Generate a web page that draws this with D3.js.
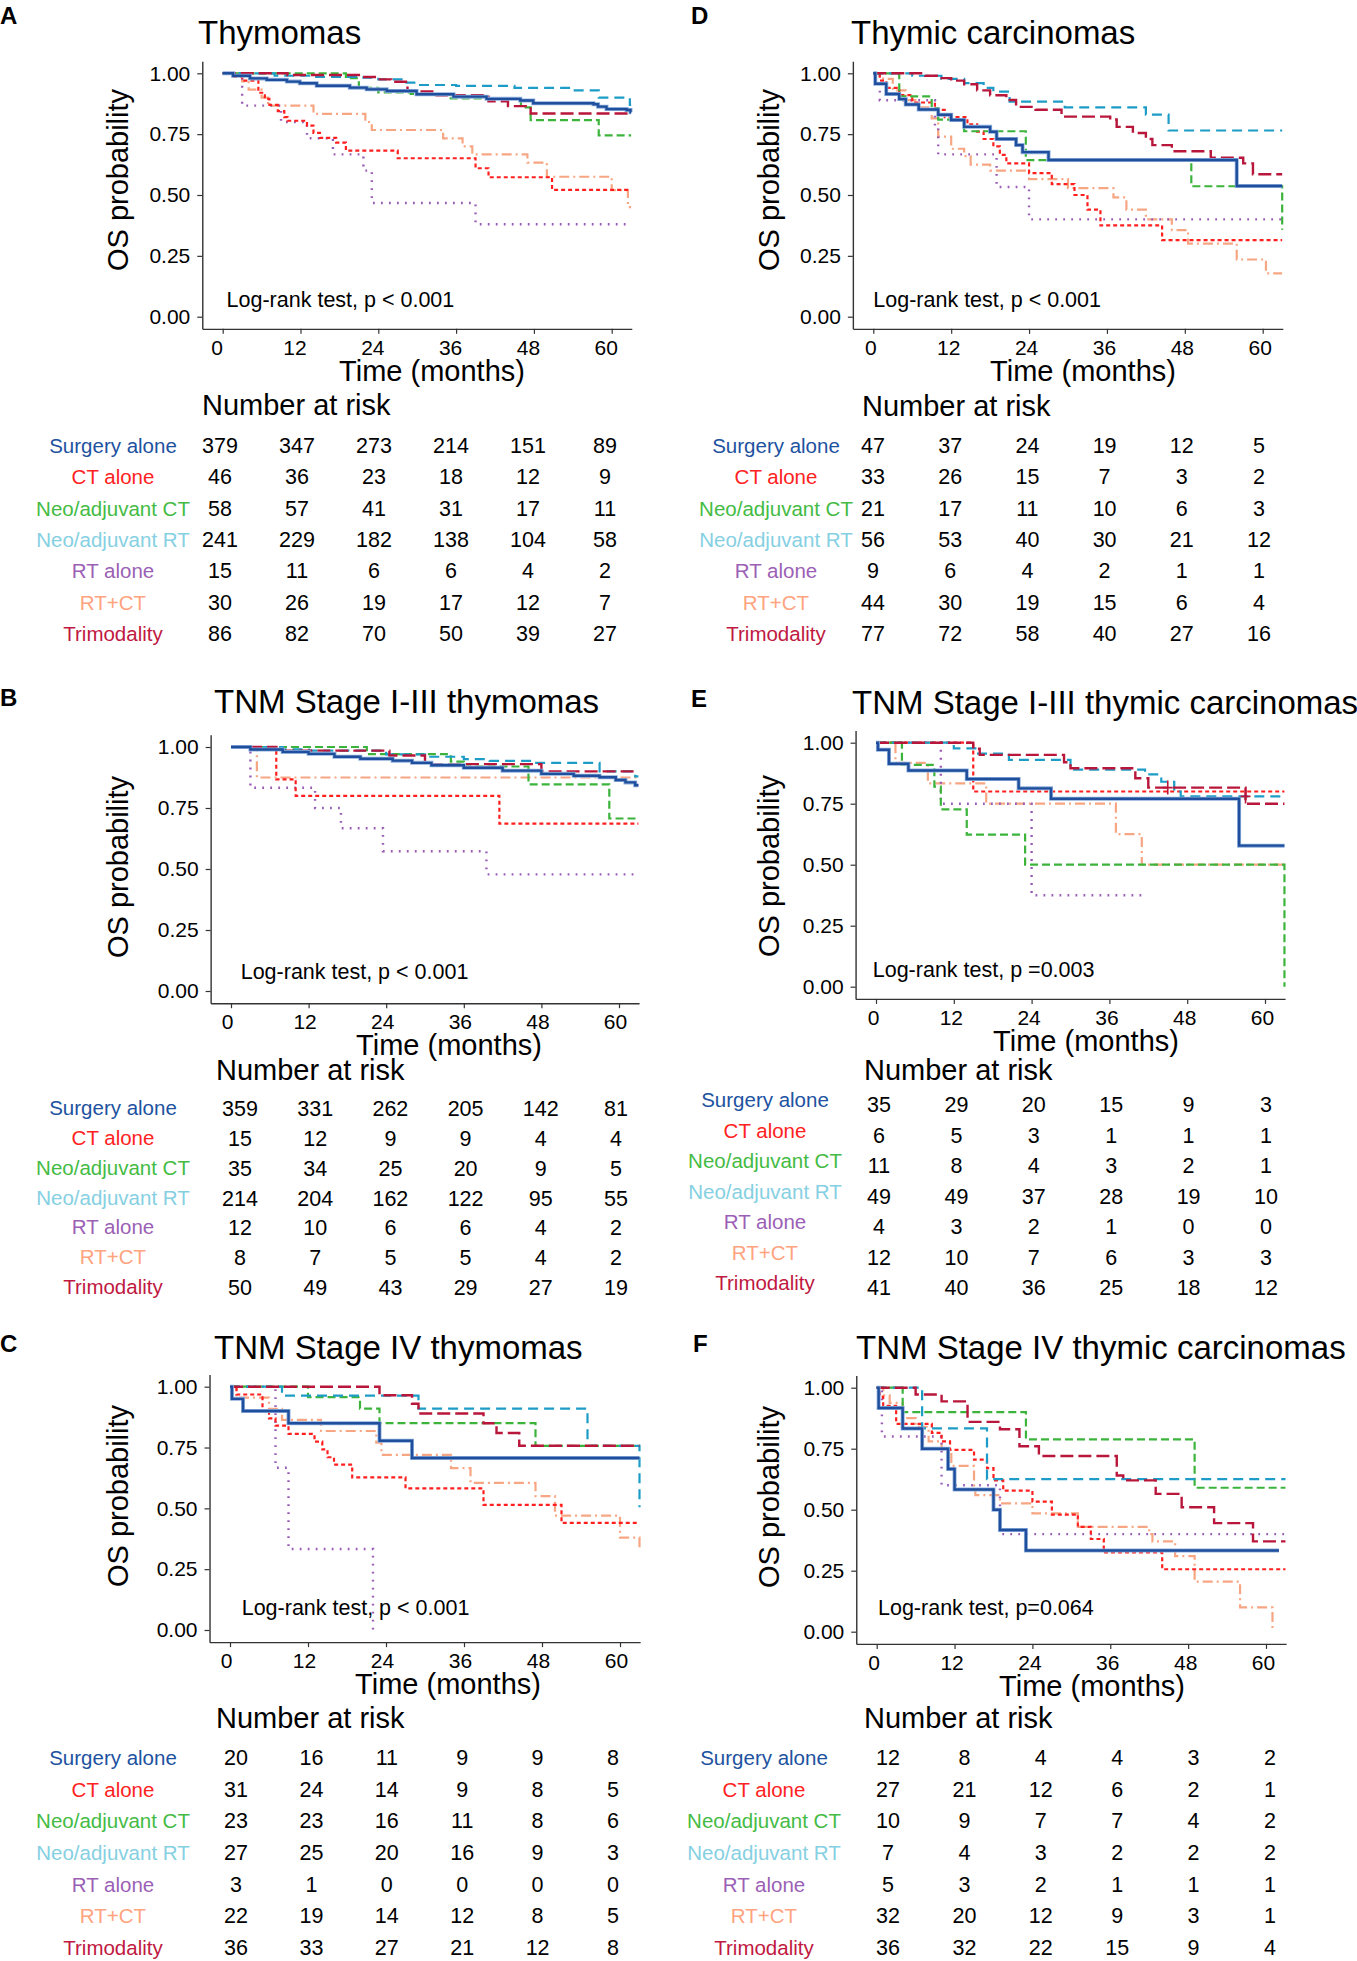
<!DOCTYPE html>
<html>
<head>
<meta charset="utf-8">
<script src="https://cdn.jsdelivr.net/npm/d3@7"></script>
<style>
  body { margin: 0; background: #fff; }
  svg { display: block; font-family: "Liberation Sans", Arial, Helvetica, sans-serif; }
</style>
</head>
<body>
<svg id="fig" width="1357" height="1961"></svg>
<script>
// groups, in the order of the risk tables
const groups = ["Surgery alone", "CT alone", "Neo/adjuvant CT", "Neo/adjuvant RT", "RT alone", "RT+CT", "Trimodality"];
const timeTicks = [0, 12, 24, 36, 48, 60];
const survTicks = [0, 0.25, 0.5, 0.75, 1];

// KM curves: [month, OS probability], last point = end of follow-up
// order inside each panel: surgery, CT, neoCT, neoRT, RT, RT+CT, trimodality
const kmA = [
  [[0,1],[1.6,0.99],[4.2,0.979],[6.8,0.973],[9.9,0.966],[11.9,0.959],[14.5,0.949],[19.6,0.941],[22.2,0.934],[25.3,0.927],[29.9,0.914],[35.6,0.904],[40.7,0.895],[45.9,0.888],[47.9,0.877],[57.2,0.873],[57.9,0.863],[59.2,0.853],[62.3,0.849],[62.9,0.84],[63,0.84]],
  [[0,1],[1.5,0.985],[3,0.97],[5.5,0.92],[6.5,0.895],[7.2,0.87],[8.5,0.845],[9.5,0.82],[10,0.805],[13,0.785],[14,0.755],[15,0.735],[17.5,0.715],[19,0.682],[27,0.651],[39,0.61],[41,0.573],[50.8,0.521],[63,0.521]],
  [[0,1],[19,0.98],[21,0.94],[24,0.922],[29,0.915],[35,0.897],[46,0.86],[47.5,0.808],[58,0.745],[63,0.745]],
  [[0,1],[8,0.99],[14,0.985],[21,0.982],[24,0.975],[28,0.962],[30,0.952],[36,0.948],[45,0.94],[54,0.93],[58,0.9],[62.8,0.87],[63,0.87]],
  [[0,1],[3,0.867],[9,0.8],[13,0.733],[17,0.667],[21.7,0.6],[23,0.467],[39,0.38],[63,0.38]],
  [[0,1],[3,0.967],[4,0.933],[6,0.9],[7,0.867],[14,0.833],[22,0.8],[23,0.767],[34,0.733],[37,0.7],[38.5,0.667],[47,0.633],[50,0.575],[60,0.52],[62.5,0.45],[63,0.45]],
  [[0,1],[10,0.993],[21,0.985],[24,0.975],[26,0.965],[28.5,0.925],[33,0.91],[41,0.885],[44,0.865],[47.5,0.835],[63,0.835]]
];
const kmB = [
  [[0,1],[3,0.99],[8,0.98],[12,0.972],[16,0.96],[20,0.952],[25,0.944],[28,0.935],[31,0.925],[36,0.915],[42,0.903],[48,0.89],[53,0.882],[57,0.876],[59.5,0.865],[61,0.855],[62.5,0.843],[63,0.843]],
  [[0,1],[7,0.867],[10,0.8],[41.5,0.686],[63,0.686]],
  [[0,1],[21,0.971],[34,0.94],[36,0.92],[46,0.847],[58.5,0.707],[63,0.707]],
  [[0,1],[8,0.99],[12,0.985],[24,0.97],[30,0.96],[36,0.95],[40,0.943],[47,0.935],[57,0.9],[62.5,0.88],[63,0.88]],
  [[0,1],[3,0.833],[13,0.75],[17,0.667],[23.5,0.573],[39.5,0.478],[63,0.478]],
  [[0,1],[4,0.875],[63,0.875]],
  [[0,1],[7,0.985],[24.5,0.965],[30,0.93],[48,0.9],[63,0.9]]
];
const kmC = [
  [[0,1],[0.3,0.95],[2,0.9],[9,0.85],[23,0.778],[28,0.707],[63,0.707]],
  [[0,1],[1,0.968],[5,0.9],[6,0.87],[7,0.84],[9,0.806],[13,0.774],[14.2,0.742],[15,0.71],[16,0.68],[18.8,0.627],[27,0.582],[39,0.514],[51,0.44],[63,0.44]],
  [[0,1],[12,0.957],[20,0.91],[23,0.85],[47,0.757],[63,0.757]],
  [[0,1],[8,0.963],[29,0.91],[55,0.757],[63,0.505]],
  [[0,1],[7,0.667],[9,0.333],[22,0]],
  [[0,1],[1,0.955],[6,0.909],[8,0.864],[14,0.818],[22.5,0.77],[23.3,0.72],[34,0.665],[37,0.605],[47,0.55],[50,0.47],[60,0.38],[63,0.33]],
  [[0,1],[23,0.965],[28,0.93],[29,0.89],[39,0.85],[41,0.81],[44.5,0.757],[63,0.757]]
];
const kmD = [
  [[0,1],[0.3,0.957],[2,0.915],[4,0.894],[5,0.872],[7,0.851],[10,0.83],[12,0.808],[14,0.78],[18,0.76],[19,0.73],[22,0.705],[23,0.676],[27,0.644],[56,0.537],[63,0.537]],
  [[0,1],[1,0.97],[2,0.94],[4,0.91],[6,0.88],[9.5,0.85],[11,0.82],[14.5,0.79],[16,0.76],[17,0.73],[18.5,0.7],[19.5,0.665],[20.5,0.63],[24,0.59],[27.5,0.545],[31,0.5],[33,0.44],[35,0.375],[44.5,0.315],[63,0.315]],
  [[0,1],[4,0.905],[9,0.857],[10,0.81],[14,0.762],[23.5,0.643],[49,0.536],[63,0.357]],
  [[0,1],[6,0.99],[10.5,0.977],[14,0.96],[17,0.94],[18.5,0.925],[21,0.884],[29.5,0.86],[42,0.83],[45.5,0.765],[63,0.765]],
  [[0,1],[1,0.889],[9.5,0.778],[10,0.667],[19,0.533],[24,0.4],[63,0.4]],
  [[0,1],[1.5,0.977],[3,0.93],[5,0.89],[7,0.86],[9,0.815],[10,0.74],[12,0.69],[14,0.66],[15,0.625],[18,0.6],[24,0.565],[30,0.528],[37,0.49],[39,0.44],[42,0.4],[46,0.356],[48.5,0.3],[56,0.235],[60.5,0.178],[63,0.178]],
  [[0,1],[8,0.99],[10,0.98],[12,0.97],[14,0.955],[16,0.93],[18,0.91],[20.5,0.89],[22,0.862],[25,0.85],[29,0.822],[36.5,0.81],[37.5,0.78],[40,0.755],[42,0.73],[43,0.705],[46,0.68],[52,0.653],[57,0.63],[58.5,0.585],[63,0.585]]
];
const kmE = [
  [[0,1],[0.3,0.971],[2,0.914],[5,0.886],[14,0.851],[22,0.813],[27,0.77],[56,0.578],[63,0.578]],
  [[0,1],[15,0.8],[63,0.8]],
  [[0,1],[4,0.909],[9,0.82],[10,0.727],[14,0.623],[23,0.5],[63,0]],
  [[0,1],[12,0.977],[15.5,0.955],[20.5,0.93],[30,0.89],[41.5,0.87],[44,0.84],[46,0.8],[47,0.78],[63,0.78]],
  [[0,1],[10,0.75],[24,0.375],[41,0.375]],
  [[0,1],[3,0.917],[8,0.833],[17,0.75],[37,0.625],[41,0.5],[63,0.5]],
  [[0,1],[15,0.975],[16,0.95],[29,0.92],[30,0.895],[40,0.854],[42,0.816],[57,0.75],[63,0.75]]
];
const kmF = [
  [[0,1],[0.3,0.917],[4,0.833],[7,0.75],[11,0.667],[12,0.583],[18,0.5],[19,0.417],[23,0.333],[62,0.333]],
  [[0,1],[0.5,0.963],[1,0.926],[3,0.852],[8.5,0.815],[10,0.78],[11.3,0.745],[15,0.705],[17,0.67],[18,0.62],[19.5,0.578],[24,0.533],[27,0.48],[31,0.43],[33,0.38],[35,0.325],[44,0.256],[63,0.256]],
  [[0,1],[4,0.9],[23,0.788],[49,0.59],[63,0.59]],
  [[0,1],[7,0.833],[17,0.625],[63,0.625]],
  [[0,1],[0.8,0.8],[10,0.6],[19,0.4],[63,0.4]],
  [[0,1],[1,0.969],[2,0.938],[4,0.875],[6,0.84],[8,0.78],[10,0.745],[11.5,0.68],[15,0.6],[15.2,0.56],[19,0.526],[24,0.485],[31,0.43],[42,0.4],[42.5,0.37],[46,0.31],[49,0.205],[56,0.1],[61,0]],
  [[0,1],[6,0.972],[10,0.944],[14,0.86],[19,0.83],[22,0.76],[25,0.72],[37,0.64],[38,0.62],[43,0.565],[47,0.51],[52,0.445],[58,0.37],[63,0.37]]
];
// censoring crosses visible in panel E (trimodality)
const censorE = [[45, 0.816], [57, 0.78]];

// numbers at risk at 0,12,24,36,48,60 months
const riskA = [[379,347,273,214,151,89],[46,36,23,18,12,9],[58,57,41,31,17,11],[241,229,182,138,104,58],[15,11,6,6,4,2],[30,26,19,17,12,7],[86,82,70,50,39,27]];
const riskB = [[359,331,262,205,142,81],[15,12,9,9,4,4],[35,34,25,20,9,5],[214,204,162,122,95,55],[12,10,6,6,4,2],[8,7,5,5,4,2],[50,49,43,29,27,19]];
const riskC = [[20,16,11,9,9,8],[31,24,14,9,8,5],[23,23,16,11,8,6],[27,25,20,16,9,3],[3,1,0,0,0,0],[22,19,14,12,8,5],[36,33,27,21,12,8]];
const riskD = [[47,37,24,19,12,5],[33,26,15,7,3,2],[21,17,11,10,6,3],[56,53,40,30,21,12],[9,6,4,2,1,1],[44,30,19,15,6,4],[77,72,58,40,27,16]];
const riskE = [[35,29,20,15,9,3],[6,5,3,1,1,1],[11,8,4,3,2,1],[49,49,37,28,19,10],[4,3,2,1,0,0],[12,10,7,6,3,3],[41,40,36,25,18,12]];
const riskF = [[12,8,4,4,3,2],[27,21,12,6,2,1],[10,9,7,7,4,2],[7,4,3,2,2,2],[5,3,2,1,1,1],[32,20,12,9,3,1],[36,32,22,15,9,4]];

// styles
const lineColors  = ["#1f4e9c", "#ff1f1f", "#3cb43c", "#1c9cc6", "#9a5db6", "#f7a683", "#b8163a"];
const labelColors = ["#2152a0", "#ff2222", "#44bb44", "#85d0e2", "#9b5fb5", "#ffa47f", "#c0183f"];
const dashes = [null, "4,3", "8,4", "10,6", "1.8,6.2", "10,4,2,4", "13,5"];
const widths = [2.4, 2.2, 2.2, 2.2, 2.4, 2.2, 2.4];
const drawOrder = [5, 4, 1, 2, 3, 6, 0];

// panel layout (pixels)
const panels = [
  { letter: "A", lx: 0,   ly: 24,   title: "Thymomas", tx: 198, ty: 44,
    x0: 222.7, x60: 611.7, y1: 73.3, y0: 316.7, osX: 128, osY: 180, timeX: 432, tickDx: -6,
    natX: 202, natY: 415, rowTop: 453, rowBot: 641, labX: 113, labDy: 0, colX0: 220, colX60: 605,
    lr: [0.6, 0.04], lrText: "Log-rank test, p < 0.001", km: kmA, risk: riskA },
  { letter: "B", lx: 0,   ly: 706,  title: "TNM Stage I-III thymomas", tx: 214, ty: 713,
    x0: 231, x60: 619, y1: 747, y0: 991, osX: 128, osY: 867, timeX: 449, tickDx: -4,
    natX: 216, natY: 1080, rowTop: 1116, rowBot: 1295, labX: 113, labDy: -1, colX0: 240, colX60: 616,
    lr: [1.5, 0.05], lrText: "Log-rank test, p < 0.001", km: kmB, risk: riskB },
  { letter: "C", lx: 0,   ly: 1352, title: "TNM Stage IV thymomas", tx: 214, ty: 1359,
    x0: 230, x60: 620, y1: 1386.7, y0: 1630, osX: 128, osY: 1496, timeX: 448, tickDx: -4,
    natX: 216, natY: 1728, rowTop: 1765, rowBot: 1955, labX: 113, labDy: 0, colX0: 236, colX60: 613,
    lr: [1.8, 0.06], lrText: "Log-rank test, p < 0.001", km: kmC, risk: riskC },
  { letter: "D", lx: 691, ly: 24,   title: "Thymic carcinomas", tx: 851, ty: 44,
    x0: 873.3, x60: 1262.7, y1: 73.3, y0: 316.7, osX: 779, osY: 180, timeX: 1083, tickDx: -3,
    natX: 862, natY: 416, rowTop: 453, rowBot: 641, labX: 776, labDy: 0, colX0: 873, colX60: 1259,
    lr: [0, 0.04], lrText: "Log-rank test, p < 0.001", km: kmD, risk: riskD },
  { letter: "E", lx: 691, ly: 707,  title: "TNM Stage I-III thymic carcinomas", tx: 852, ty: 714,
    x0: 876, x60: 1265, y1: 742.7, y0: 986.7, osX: 779, osY: 866, timeX: 1086, tickDx: -3,
    natX: 864, natY: 1080, rowTop: 1112, rowBot: 1295, labX: 765, labDy: -5, colX0: 879, colX60: 1266,
    lr: [-0.5, 0.04], lrText: "Log-rank test, p =0.003", km: kmE, risk: riskE, censor: censorE },
  { letter: "F", lx: 693, ly: 1352, title: "TNM Stage IV thymic carcinomas", tx: 856, ty: 1359,
    x0: 876.7, x60: 1266, y1: 1387.7, y0: 1631.7, osX: 779, osY: 1497, timeX: 1092, tickDx: -3,
    natX: 864, natY: 1728, rowTop: 1765, rowBot: 1955, labX: 764, labDy: 0, colX0: 888, colX60: 1270,
    lr: [0.2, 0.07], lrText: "Log-rank test, p=0.064", km: kmF, risk: riskF }
];

const svg = d3.select("#fig");

function drawPanel(p) {
  const g = svg.append("g");
  const x = d3.scaleLinear().domain([0, 60]).range([p.x0, p.x60]);
  const y = d3.scaleLinear().domain([0, 1]).range([p.y0, p.y1]);
  // ggplot-like expansion of the panel
  const xLo = -3.15, xHi = 63.1, yLo = -0.05, yHi = 1.05;
  const axisY = y(yLo), axisX = x(xLo);

  // letter + title
  g.append("text").attr("x", p.lx).attr("y", p.ly)
    .attr("font-size", 24).attr("font-weight", "bold").text(p.letter);
  g.append("text").attr("x", p.tx).attr("y", p.ty)
    .attr("font-size", 33).text(p.title);

  // axes
  const xa = x.copy().domain([xLo, xHi]).range([x(xLo), x(xHi)]);
  const ya = y.copy().domain([yLo, yHi]).range([y(yLo), y(yHi)]);
  const gx = g.append("g").attr("transform", `translate(0,${axisY})`)
    .call(d3.axisBottom(xa).tickValues(timeTicks).tickSize(5).tickSizeOuter(0).tickPadding(6));
  const gy = g.append("g").attr("transform", `translate(${axisX},0)`)
    .call(d3.axisLeft(ya).tickValues(survTicks).tickFormat(d3.format(".2f"))
      .tickSize(5).tickSizeOuter(0).tickPadding(7));
  [gx, gy].forEach(a => {
    a.attr("font-size", null).attr("font-family", null);
    a.select(".domain").attr("stroke", "#333").attr("stroke-width", 1.4);
    a.selectAll(".tick line").attr("stroke", "#333").attr("stroke-width", 1.2);
    a.selectAll(".tick text").attr("font-size", 21).attr("fill", "#000");
  });
  gx.selectAll(".tick text").attr("dx", p.tickDx);

  // axis titles
  g.append("text").attr("x", p.timeX).attr("y", axisY + 52)
    .attr("text-anchor", "middle").attr("font-size", 29).text("Time (months)");
  g.append("text").attr("transform", `translate(${p.osX},${p.osY}) rotate(-90)`)
    .attr("text-anchor", "middle").attr("font-size", 29).text("OS probability");

  // survival curves
  const line = d3.line().x(d => x(d[0])).y(d => y(d[1])).curve(d3.curveStepAfter);
  drawOrder.forEach(i => {
    if (i === 0) { // light halo round the solid surgery curve
      g.append("path").attr("d", line(p.km[i])).attr("fill", "none")
        .attr("stroke", "#8fb0dc").attr("stroke-width", 4);
    }
    g.append("path").attr("d", line(p.km[i])).attr("fill", "none")
      .attr("stroke", lineColors[i]).attr("stroke-width", widths[i])
      .attr("stroke-dasharray", dashes[i]);
  });
  if (p.censor) {
    p.censor.forEach(c => {
      g.append("path")
        .attr("d", `M${x(c[0]) - 5},${y(c[1])}h10M${x(c[0])},${y(c[1]) - 7}v14`)
        .attr("stroke", lineColors[6]).attr("stroke-width", 1.6);
    });
  }

  // log-rank annotation
  g.append("text").attr("x", x(p.lr[0])).attr("y", y(p.lr[1]))
    .attr("font-size", 21.5).text(p.lrText);

  // risk table
  g.append("text").attr("x", p.natX).attr("y", p.natY)
    .attr("font-size", 29).text("Number at risk");
  const rowY = d3.scaleLinear().domain([0, groups.length - 1]).range([p.rowTop, p.rowBot]);
  const colX = d3.scaleLinear().domain([0, 60]).range([p.colX0, p.colX60]);
  groups.forEach((name, i) => {
    g.append("text").attr("x", p.labX).attr("y", rowY(i) + p.labDy)
      .attr("text-anchor", "middle").attr("font-size", 20.5)
      .attr("fill", labelColors[i]).text(name);
    g.append("g").selectAll("text").data(p.risk[i]).join("text")
      .attr("x", (d, j) => colX(timeTicks[j])).attr("y", rowY(i))
      .attr("text-anchor", "middle").attr("font-size", 21.5).text(d => d);
  });
}

panels.forEach(drawPanel);
</script>
</body>
</html>
